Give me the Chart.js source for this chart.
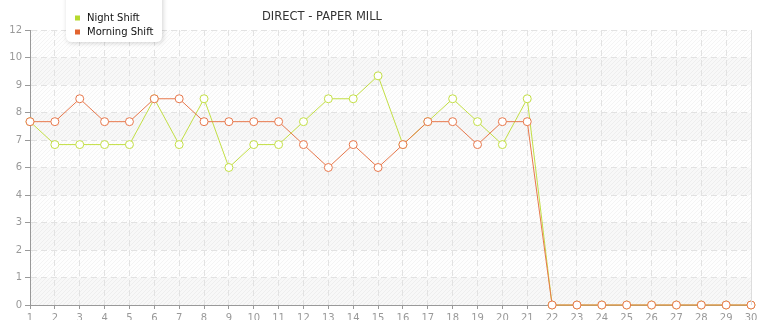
<!DOCTYPE html>
<html>
<head>
<meta charset="utf-8">
<script src="https://cdn.jsdelivr.net/npm/chart.js@4"></script>
<style>
html,body{margin:0;padding:0;background:#fff;}
#wrap{width:765px;height:320px;position:relative;}
</style>
</head>
<body>
<div id="wrap"><canvas id="c" width="765" height="320"></canvas></div>
<script>
const categories = ['1','2','3','4','5','6','7','8','9','10','11','12','13','14','15','16','17','18','19','20','21','22','23','24','25','26','27','28','29','30'];
const nightShift = [8,7,7,7,7,9,7,9,6,7,7,8,9,9,10,7,8,9,8,7,9,0,0,0,0,0,0,0,0,0];
const morningShift = [8,8,9,8,8,9,9,8,8,8,8,7,6,7,6,7,8,8,7,8,8,0,0,0,0,0,0,0,0,0];
const seriesNames = ['Night Shift','Morning Shift'];
const chartTitle = 'DIRECT - PAPER MILL';
const yMin = 0, yMax = 12, yStep = 1.2;

const FONT = '"DejaVu Sans", Verdana, sans-serif';
const GREEN = '#c3df45', ORANGE = '#e8784c';
const GREEN_M = '#b6d92e', ORANGE_M = '#e2642f';

const bgPlugin = {
  id: 'bg',
  beforeDraw(chart) {
    const {ctx, chartArea: a, scales: {y}} = chart;
    ctx.save();
    ctx.beginPath(); ctx.rect(a.left, a.top, a.right - a.left, a.bottom - a.top); ctx.clip();
    const ticks = y.ticks;
    for (let i = 0; i < ticks.length - 1; i++) {
      const y0 = y.getPixelForValue(ticks[i].value), y1 = y.getPixelForValue(ticks[i + 1].value);
      const idxFromTop = ticks.length - 2 - i;
      ctx.fillStyle = idxFromTop % 2 === 0 ? '#fefefe' : '#f8f8f8';
      ctx.fillRect(a.left, y1, a.right - a.left, y0 - y1);
    }
    ctx.strokeStyle = 'rgba(0,0,0,0.04)';
    ctx.lineWidth = 1;
    ctx.beginPath();
    const h = a.bottom - a.top;
    for (let x = a.left - h; x < a.right + 4; x += 4) {
      ctx.moveTo(x, a.bottom); ctx.lineTo(x + h, a.top);
    }
    ctx.stroke();
    ctx.restore();
  },
  afterDatasetsDraw(chart) {
    const {ctx, chartArea: a} = chart;
    ctx.save();
    ctx.strokeStyle = '#dddddd'; ctx.lineWidth = 1;
    ctx.beginPath(); ctx.moveTo(Math.round(a.right) + 0.5, a.top); ctx.lineTo(Math.round(a.right) + 0.5, a.bottom); ctx.stroke();
    ctx.restore();
  },
  afterDraw(chart) {
    const ctx = chart.ctx;
    ctx.save();
    ctx.fillStyle = '#333333';
    ctx.font = '11.5px ' + FONT;
    ctx.textAlign = 'center'; ctx.textBaseline = 'middle';
    ctx.fillText(chartTitle, 322, 17);
    const bx = 66, by = -8, bw = 96, bh = 50, r = 6;
    ctx.shadowColor = 'rgba(0,0,0,0.18)'; ctx.shadowBlur = 5; ctx.shadowOffsetX = 1; ctx.shadowOffsetY = 1;
    ctx.fillStyle = '#ffffff';
    ctx.beginPath();
    ctx.moveTo(bx + r, by); ctx.lineTo(bx + bw - r, by); ctx.quadraticCurveTo(bx + bw, by, bx + bw, by + r);
    ctx.lineTo(bx + bw, by + bh - r); ctx.quadraticCurveTo(bx + bw, by + bh, bx + bw - r, by + bh);
    ctx.lineTo(bx + r, by + bh); ctx.quadraticCurveTo(bx, by + bh, bx, by + bh - r);
    ctx.lineTo(bx, by + r); ctx.quadraticCurveTo(bx, by, bx + r, by);
    ctx.closePath(); ctx.fill();
    ctx.shadowColor = 'transparent';
    const cols = [GREEN_M, ORANGE_M];
    ctx.font = '10px ' + FONT; ctx.textAlign = 'left'; ctx.textBaseline = 'middle';
    seriesNames.forEach((n, i) => {
      const cy = 18 + i * 14;
      ctx.fillStyle = cols[i];
      ctx.fillRect(75, cy - 2.5, 5, 5);
      ctx.fillStyle = '#111111';
      ctx.fillText(n, 87, cy);
    });
    ctx.restore();
  }
};

new Chart(document.getElementById('c'), {
  type: 'line',
  data: {
    labels: categories,
    datasets: [
      { label: seriesNames[0], data: nightShift, borderColor: GREEN, backgroundColor: '#ffffff',
        borderWidth: 1, pointRadius: 4, pointBorderWidth: 1, pointBackgroundColor: '#ffffff',
        pointBorderColor: GREEN, tension: 0, order: 1 },
      { label: seriesNames[1], data: morningShift, borderColor: ORANGE, backgroundColor: '#ffffff',
        borderWidth: 1, pointRadius: 4, pointBorderWidth: 1, pointBackgroundColor: '#ffffff',
        pointBorderColor: ORANGE, tension: 0, order: 0 }
    ]
  },
  options: {
    responsive: false,
    animation: false,
    devicePixelRatio: 1,
    layout: { padding: { left: 0, right: 14, top: 30, bottom: 0 } },
    plugins: { legend: { display: false }, title: { display: false }, tooltip: { enabled: false } },
    elements: { point: { hoverRadius: 4 } },
    clip: false,
    scales: {
      x: {
        type: 'category',
        offset: false,
        afterFit(s) { s.height = 15; },
        grid: { color: '#e2e2e2', tickColor: '#999999', tickBorderDash: [], tickLength: 4, drawTicks: true },
        border: { color: '#999999', width: 1, dash: [6, 4] },
        ticks: { color: '#999999', font: { family: FONT, size: 10 }, padding: 3, autoSkip: false, maxRotation: 0 }
      },
      y: {
        min: yMin, max: yMax,
        afterFit(s) { s.width = 30; },
        grid: { color: '#e2e2e2', tickColor: '#999999', tickBorderDash: [], tickLength: 5, drawTicks: true },
        border: { color: '#999999', width: 1, dash: [6, 4] },
        ticks: { stepSize: yStep, color: '#999999', font: { family: FONT, size: 10 }, padding: 3,
          callback: v => String(Math.floor(v + 1e-9)) }
      }
    }
  },
  plugins: [bgPlugin]
});
</script>
</body>
</html>
